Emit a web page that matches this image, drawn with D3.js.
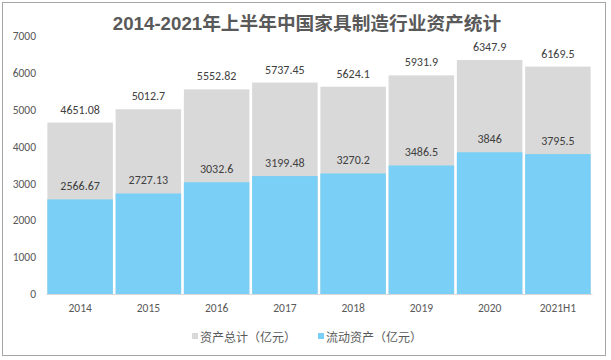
<!DOCTYPE html>
<html><head><meta charset="utf-8">
<script src="https://cdn.jsdelivr.net/npm/d3@7"></script>
<style>body{margin:0;background:#fff}svg{display:block}</style>
</head><body>
<svg id="c" width="611" height="360"></svg>
<script>
const categories = ["2014","2015","2016","2017","2018","2019","2020","2021H1"];
const totalAssets = [4651.08,5012.7,5552.82,5737.45,5624.1,5931.9,6347.9,6169.5];
const currentAssets = [2566.67,2727.13,3032.6,3199.48,3270.2,3486.5,3846,3795.5];
const yTicks = [0,1000,2000,3000,4000,5000,6000,7000];
const seriesNames = ["资产总计（亿元）","流动资产（亿元）"];
const colors = ["#d9d9d9","#79cff5"];

const svg = d3.select("#c");
const font = "Calibri, Carlito, 'Noto Sans CJK SC', 'Liberation Sans', sans-serif";
svg.append("rect").attr("x",2.5).attr("y",2.5).attr("width",603).attr("height",353)
  .attr("fill","#fff").attr("stroke","#a6a6a6").attr("stroke-width",1);

svg.append("text").attr("x",307).attr("y",30).attr("text-anchor","middle")
  .attr("font-family","'Liberation Sans','Noto Sans CJK SC',sans-serif").attr("font-weight","bold")
  .attr("font-size",18.7).attr("fill","#595959").text("2014-2021年上半年中国家具制造行业资产统计");

const x = d3.scaleBand().domain(categories).range([46,592]).paddingInner(0.04).paddingOuter(0.02);
const y = d3.scaleLinear().domain([0,7000]).range([294,36]);

const yAxis = svg.append("g").attr("transform","translate(36,0)")
  .call(d3.axisLeft(y).tickValues(yTicks).tickFormat(d3.format("d")).tickSize(0).tickPadding(0));
yAxis.select(".domain").remove();
yAxis.selectAll("text").attr("font-family",font).attr("font-size",11.5).attr("fill","#595959");

const g = svg.append("g");
[totalAssets,currentAssets].forEach((vals,i)=>{
  g.selectAll(null).data(vals).enter().append("rect")
    .attr("x",(d,j)=>x(categories[j])).attr("width",x.bandwidth())
    .attr("y",d=>y(d)).attr("height",d=>y(0)-y(d)).attr("fill",colors[i]);
  g.selectAll(null).data(vals).enter().append("text")
    .attr("x",(d,j)=>x(categories[j])+x.bandwidth()/2).attr("y",d=>y(d)-9)
    .attr("text-anchor","middle").attr("font-family",font).attr("font-size",12)
    .attr("fill","#404040").text(d=>d);
});

const xAxis = svg.append("g").attr("transform","translate(0,294)")
  .call(d3.axisBottom(x).tickSize(0).tickPadding(10));
xAxis.select(".domain").attr("stroke","#d9d9d9");
xAxis.selectAll("text").attr("font-family",font).attr("font-size",11.5).attr("fill","#595959");

const legX = [192,318];
seriesNames.forEach((n,i)=>{
  svg.append("rect").attr("x",legX[i]).attr("y",333).attr("width",6).attr("height",6).attr("fill",colors[i]);
  svg.append("text").attr("x",legX[i]+8).attr("y",341.5).attr("font-family","'Noto Sans CJK SC',sans-serif")
    .attr("font-size",12).attr("fill","#595959").text(n);
});
</script>
</body></html>
